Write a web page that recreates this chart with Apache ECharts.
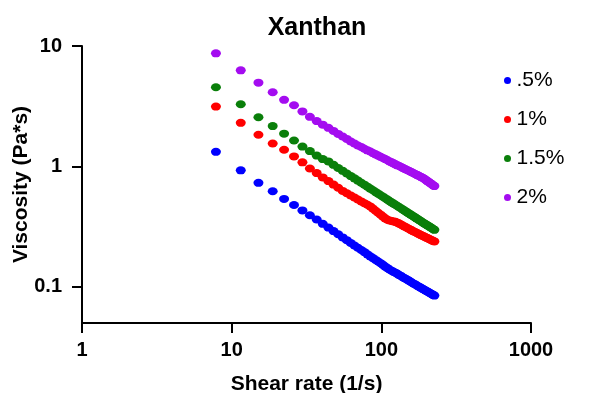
<!DOCTYPE html>
<html>
<head>
<meta charset="utf-8">
<script src="https://cdn.jsdelivr.net/npm/echarts@6/dist/echarts.min.js"></script>
<style>html,body{margin:0;padding:0;background:#fff}#c{width:596px;height:393px}</style>
</head>
<body>
<div id="c"></div>
<script>
const shearRate = [7.85,11.5,15.1,18.8,22.4,26.1,29.7,33.3,37.0,40.6,44.3,47.9,51.5,55.2,58.8,62.5,66.1,69.7,73.4,77.0,80.7,84.3,87.9,91.6,95.2,98.9,102.5,106.1,109.8,113.4,117.1,120.7,124.3,128.0,131.6,135.3,138.9,142.5,146.2,149.8,153.5,157.1,160.7,164.4,168.0,171.7,175.3,178.9,182.6,186.2,189.9,193.5,197.1,200.8,204.4,208.1,211.7,215.3,219.0,222.6,226.2];
const visc05 = [1.32,0.927,0.730,0.621,0.537,0.478,0.431,0.393,0.362,0.333,0.310,0.290,0.273,0.257,0.244,0.231,0.220,0.211,0.202,0.194,0.186,0.179,0.173,0.167,0.162,0.157,0.152,0.147,0.143,0.139,0.136,0.133,0.131,0.128,0.125,0.123,0.120,0.118,0.116,0.114,0.112,0.110,0.108,0.106,0.105,0.103,0.101,0.100,0.0984,0.0972,0.0957,0.0944,0.0931,0.0920,0.0909,0.0897,0.0885,0.0875,0.0865,0.0853,0.0845];
const visc1 = [3.14,2.30,1.83,1.55,1.375,1.21,1.08,0.96,0.88,0.81,0.755,0.706,0.664,0.625,0.598,0.573,0.551,0.531,0.512,0.495,0.480,0.465,0.446,0.428,0.412,0.397,0.383,0.370,0.360,0.356,0.352,0.349,0.346,0.341,0.335,0.329,0.323,0.317,0.312,0.306,0.302,0.297,0.293,0.288,0.285,0.281,0.277,0.274,0.270,0.267,0.264,0.261,0.258,0.255,0.253,0.250,0.247,0.245,0.242,0.240,0.238];
const visc15 = [4.54,3.28,2.56,2.16,1.87,1.64,1.46,1.34,1.23,1.15,1.10,1.03,0.970,0.918,0.873,0.831,0.795,0.762,0.731,0.705,0.678,0.654,0.633,0.612,0.593,0.576,0.560,0.544,0.530,0.515,0.502,0.491,0.480,0.469,0.458,0.449,0.439,0.430,0.421,0.413,0.405,0.398,0.391,0.384,0.377,0.370,0.364,0.358,0.352,0.347,0.341,0.336,0.331,0.327,0.322,0.318,0.313,0.309,0.305,0.301,0.297];
const visc2 = [8.69,6.28,4.96,4.13,3.57,3.22,2.86,2.58,2.38,2.22,2.09,1.97,1.86,1.77,1.69,1.61,1.55,1.49,1.45,1.40,1.36,1.33,1.29,1.26,1.23,1.20,1.175,1.15,1.125,1.10,1.08,1.06,1.04,1.02,1.007,0.989,0.973,0.957,0.942,0.929,0.915,0.902,0.889,0.877,0.865,0.853,0.842,0.832,0.820,0.811,0.801,0.789,0.776,0.762,0.751,0.739,0.727,0.717,0.706,0.695,0.686];
const seriesNames = ['.5%','1%','1.5%','2%'];
const seriesColors = ['#0000ff','#ff0000','#0a7f0a','#a40cf0'];
const xTicks = [1,10,100,1000];
const yTicks = [0.1,1,10];

const allVals = [visc05, visc1, visc15, visc2];
const chart = echarts.init(document.getElementById('c'));
const font = 'Liberation Sans, Arial, sans-serif';
chart.setOption({
  animation: false,
  title: {text: 'Xanthan', left: 312, top: 11, textAlign: 'center',
    textStyle: {fontFamily: font, fontWeight: 'bold', fontSize: 25, color: '#000'}},
  legend: {
    orient: 'vertical', left: 499, top: 65, itemWidth: 8, itemHeight: 7, itemGap: 18, itemTextGap: 32,
    icon: 'circle',
    textStyle: {fontFamily: font, fontSize: 21, color: '#000'},
    data: seriesNames
  },
  grid: {left: 82, right: 65, top: 46, bottom: 70, containLabel: false, outerBoundsMode: 'none'},
  xAxis: {
    type: 'log', logBase: 10, min: 1, max: 1000,
    name: 'Shear rate (1/s)', nameLocation: 'middle', nameGap: 51,
    nameTextStyle: {fontFamily: font, fontWeight: 'bold', fontSize: 21, color: '#000'},
    axisLine: {lineStyle: {color: '#000', width: 2}},
    axisTick: {length: 10, lineStyle: {color: '#000', width: 2}, customValues: xTicks},
    axisLabel: {margin: 17, fontFamily: font, fontWeight: 'bold', fontSize: 20, color: '#000', customValues: xTicks,
      formatter: v => String(v)},
    splitLine: {show: false}, minorTick: {show: false}
  },
  yAxis: {
    type: 'log', logBase: 10, min: 0.05, max: 10,
    name: 'Viscosity (Pa*s)', nameLocation: 'middle', nameGap: 50, nameMoveOverlap: false,
    nameTextStyle: {fontFamily: font, fontWeight: 'bold', fontSize: 21, color: '#000'},
    axisLine: {show: true, lineStyle: {color: '#000', width: 2}},
    axisTick: {show: true, length: 10, lineStyle: {color: '#000', width: 2}, customValues: yTicks},
    axisLabel: {margin: 20, fontFamily: font, fontWeight: 'bold', fontSize: 20, color: '#000', customValues: yTicks,
      formatter: v => String(v)},
    splitLine: {show: false}, minorTick: {show: false}
  },
  series: seriesNames.map((n, i) => ({
    name: n, type: 'scatter', symbol: 'circle', symbolSize: [10, 8],
    itemStyle: {color: seriesColors[i], opacity: 1},
    data: shearRate.map((x, j) => [x, allVals[i][j]])
  }))
});
</script>
</body>
</html>
